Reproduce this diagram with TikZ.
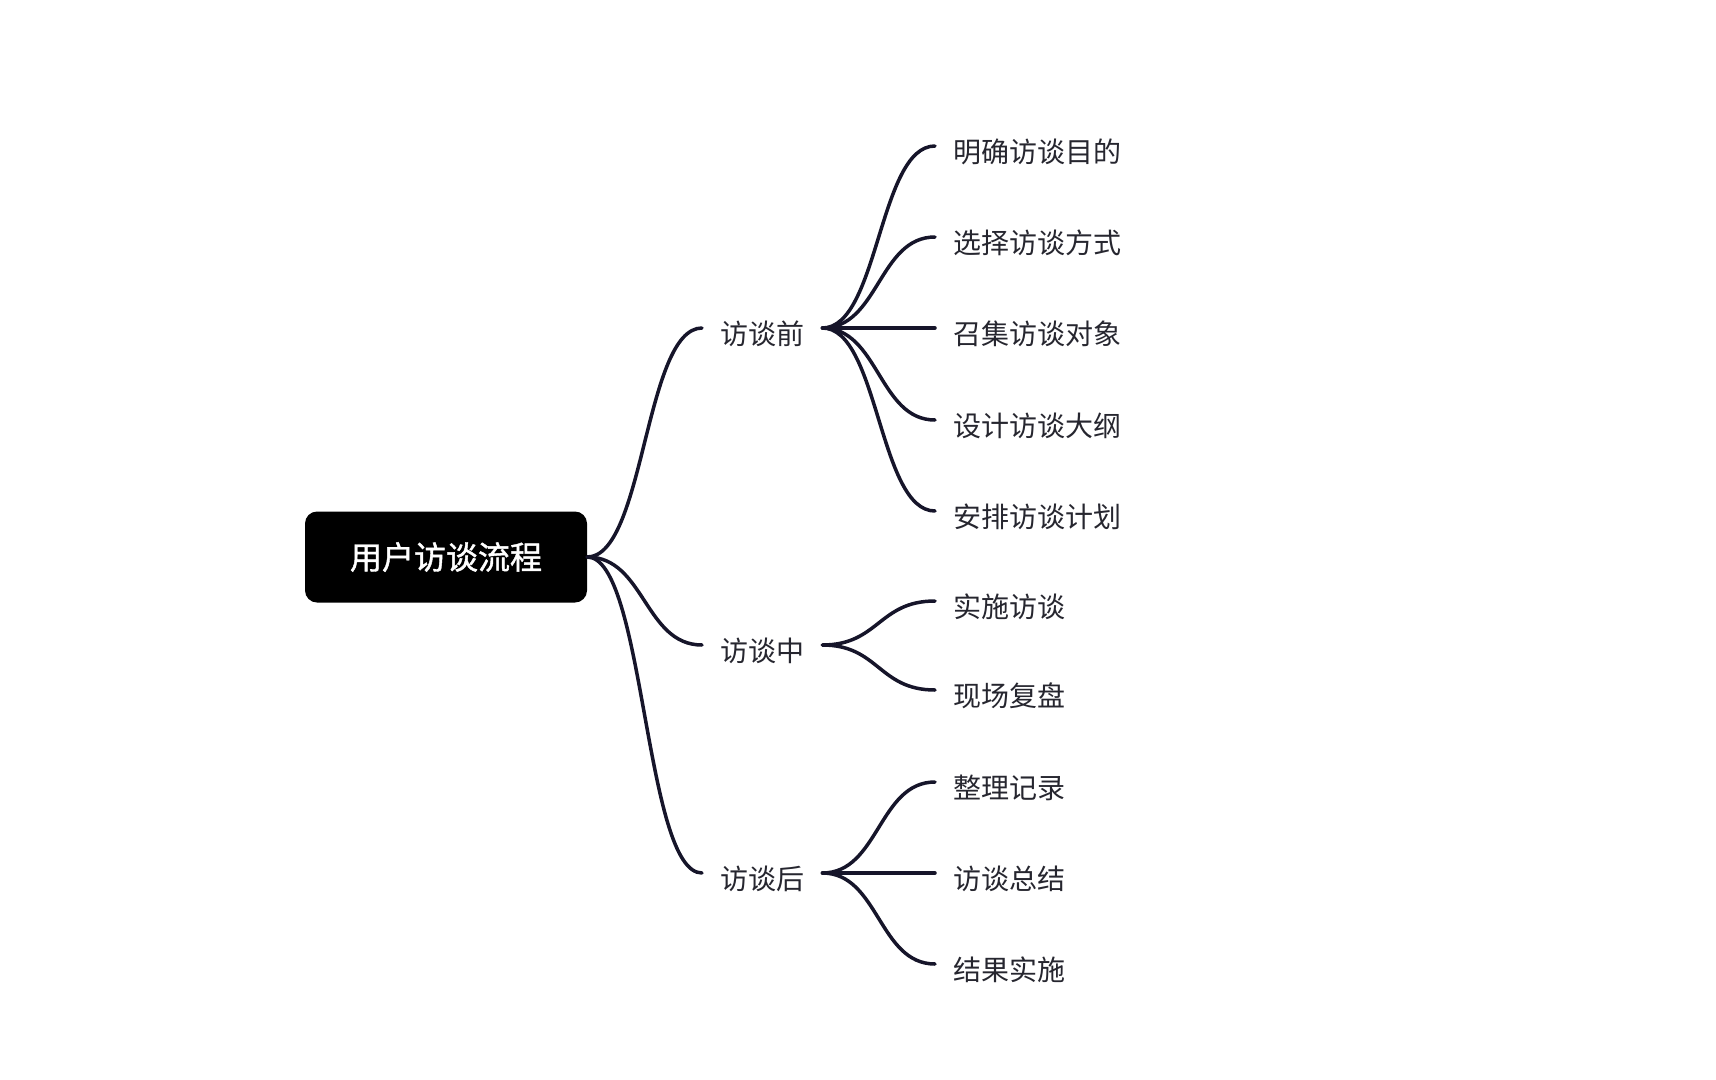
\documentclass[tikz,border=0pt]{standalone}
\usepackage{fontspec}
\setmainfont{Noto Sans CJK SC}
\newfontfamily\rootfont{Noto Sans CJK SC}[FakeBold=1.3]
\usetikzlibrary{calc}
\definecolor{linecol}{HTML}{16152A}
\definecolor{textcol}{HTML}{26262F}

\begin{document}
\begin{tikzpicture}
[x=1pt,y=-1pt,%
  every node/.style={inner sep=0pt,text=textcol,font=\fontsize{28}{30}\selectfont},%
  root/.style={rectangle,rounded corners=12pt,fill=black,text=white,%
    minimum width=282pt,minimum height=91pt,font=\fontsize{32}{36}\rootfont},%
  topic/.style={anchor=west,inner xsep=18pt,text height=32pt,text depth=0pt},%
  curvy/.style={to path={let \p1=(\tikztostart), \p2=(\tikztotarget) in
    .. controls ({(\x1+\x2)/2},\y1) and ({(\x1+\x2)/2},\y2) .. (\tikztotarget)}},%
  link/.style={draw=linecol,line width=3.5pt,line cap=round}]
\useasboundingbox (0,0) rectangle (1716,1079);

\node[root] (flow) at (446,557) {用户访谈流程};

% stages
\node[topic] (before) at (702,328) {访谈前};
\node[topic] (during) at (702,645) {访谈中};
\node[topic] (after)  at (702,873) {访谈后};

% steps
\node[topic] (goal)    at (935,146) {明确访谈目的};
\node[topic] (mode)    at (935,237) {选择访谈方式};
\node[topic] (people)  at (935,328) {召集访谈对象};
\node[topic] (outline) at (935,420) {设计访谈大纲};
\node[topic] (plan)    at (935,511) {安排访谈计划};
\node[topic] (run)     at (935,601) {实施访谈};
\node[topic] (review)  at (935,690) {现场复盘};
\node[topic] (notes)   at (935,782) {整理记录};
\node[topic] (summary) at (935,873) {访谈总结};
\node[topic] (apply)   at (935,964) {结果实施};

\foreach \s in {before,during,after}
  \draw[link] (flow.east) to[curvy] (\s.west);
\foreach \s in {goal,mode,people,outline,plan}
  \draw[link] (before.east) to[curvy] (\s.west);
\foreach \s in {run,review}
  \draw[link] (during.east) to[curvy] (\s.west);
\foreach \s in {notes,summary,apply}
  \draw[link] (after.east) to[curvy] (\s.west);
\end{tikzpicture}
\end{document}
